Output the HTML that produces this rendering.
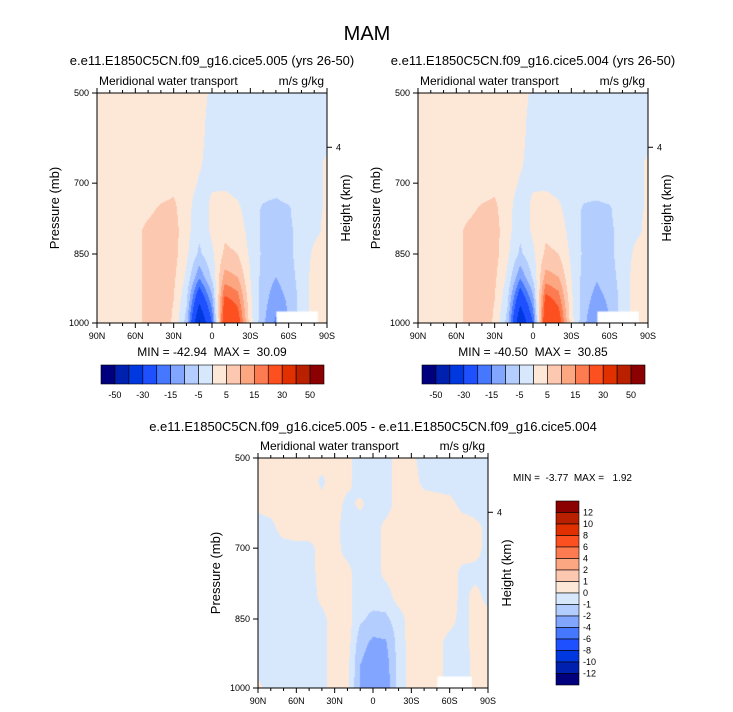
<!DOCTYPE html>
<html><head><meta charset="utf-8">
<style>
body{margin:0;background:#fff;}
#root{position:relative;width:733px;height:712px;overflow:hidden;background:#fff;font-family:"Liberation Sans",sans-serif;}
svg text{font-family:"Liberation Sans",sans-serif;fill:#000;white-space:pre;}
canvas{position:absolute;}
</style></head>
<body>
<div id="root">
<canvas id="cv1" width="230" height="230" style="left:97px;top:93px"></canvas>
<canvas id="cv2" width="230" height="230" style="left:418px;top:93px"></canvas>
<canvas id="cv3" width="230" height="230" style="left:258px;top:458px"></canvas>
<svg id="svg" width="733" height="712" style="position:absolute;left:0;top:0"></svg>
</div>
<script>
// ---- data ----
const latLabels = ["90N","60N","30N","0","30S","60S","90S"];
const presLabels = ["500","700","850","1000"];
const presFrac = [0, 0.392, 0.70, 1];
const heightLabels = ["4"];
const heightFrac = [0.236];
const levelsTop = [-50,-40,-30,-20,-15,-10,-5,0,5,10,15,20,30,40,50];
const levelsTopLabels = ["-50","-30","-15","-5","5","15","30","50"];
const levelsDiff = [-12,-10,-8,-6,-4,-2,-1,0,1,2,4,6,8,10,12];
const levelsDiffLabels = ["12","10","8","6","4","2","1","0","-1","-2","-4","-6","-8","-10","-12"];
const colors = ["#00007f","#0020b0","#0038e0","#1e50ff","#4678ff","#82a5ff","#b4cdff","#d7e8fd","#fde8d8","#fdc8b0","#fca682","#fd7b50","#fd5020","#e03000","#b82000","#8b0000"];
const stats005 = ["-42.94","30.09"];
const stats004 = ["-40.50","30.85"];
const statsDiff = ["-3.77","1.92"];
const grid005 = [
[2,2,2,2,2,2,2,2,2,-1,-2,-2,-2,-2,-2,-2,-2,-2,-2],
[2,2,2,2,2,2,2,2,1.5,-1.5,-2,-2,-2,-2,-2,-2,-2,-2,-2],
[2,2,2,2,2,2,2,2,1,-1.5,-2,-2,-2,-2,-2,-2,-2,-2,-1],
[2,2,2,2,2,2,2.5,2,0.5,-1.5,-2,-2,-2,-2,-2,-2,-2,-1,0.5],
[2,2,2,2,2,3,4,2,-0.5,-0.5,-1,-2,-2,-3,-3,-2,-2,-1,0.5],
[2,2,2,3,4,5.5,6,2,-3,1,3,1,-3,-5.5,-6.5,-5.5,-2,-1,0.5],
[2,2,2,4,6,7,7,2,-4,1,4,3,-2,-6,-7,-6,-3,-1,1],
[2,2,2,4,6,7,7,1,-6,-1,6,5,-1,-6,-8,-6,-3,1,2],
[2,2,2,4,6,7,6,-1,-14,-4,12,10,0,-7,-10,-7,-3,2,2],
[2,2,2,4,6,8,5,-4,-28,-12,22,18,1,-8,-13,-9,-3,2,2],
[2,2,2,4,6,9,4,-7,-42,-20,29,25,2,-9,-16,-10,-3,2,2]];
const grid004 = [
[2,2,2,2,2,2,2,2,2,-1,-2,-2,-2,-2,-2,-2,-2,-2,-2],
[2,2,2,2,2,2,2,2,1.5,-1.5,-2,-2,-2,-2,-2,-2,-2,-2,-2],
[2,2,2,2,2,2,2,2,1,-1.5,-2,-2,-2,-2,-2,-2,-2,-2,-1],
[2,2,2,2,2,2,2.5,2,0.5,-1.5,-2,-2,-2,-2,-2,-2,-2,-1,0.5],
[2,2,2,2,2,3,4,2,-0.5,-0.5,-1,-2,-2,-3,-3,-2,-2,-1,0.5],
[2,2,2,3,4,5.5,6,2,-3,1,3,1,-3,-5.5,-6,-5.5,-2,-1,0.5],
[2,2,2,4,6,7,7,2,-4,1,4,3,-2,-6,-7,-6,-3,-1,1],
[2,2,2,4,6,7,7,1,-6,-1,6,5,-1,-6,-8,-6,-3,1,2],
[2,2,2,4,6,7,6,-1,-14,-4,12,10,0,-7,-9.5,-7,-3,2,2],
[2,2,2,4,6,8,5,-4,-27,-12,23,18,1,-8,-12,-9,-3,2,2],
[2,2,2,4,6,9,4,-7,-40,-20,30,25,2,-9,-15,-10,-3,2,2]];
const gridDiff = [
[.5,.5,.5,.5,.5,.5,.5,.3,-.5,-.5,-.5,.5,.3,-.5,-.5,-.5,-.5,-.5,-.5],
[.5,.5,.5,.5,.5,-.2,.5,.3,-.5,-.5,-.5,.5,.5,-.3,-.5,-.5,-.5,-.5,-.5],
[.3,.5,.5,.5,.5,.3,.5,-.3,.2,-.5,-.5,.5,.5,.5,.5,.3,-.3,-.5,-.5],
[-.5,-.3,.5,.5,.5,.3,.3,-.5,-.5,-.5,.3,.5,.5,.5,.5,.5,.5,.3,-.3],
[-.5,-.5,-.5,-.3,-.3,.3,.3,-.3,-.5,-.5,.3,.5,.5,.5,.5,.5,.5,.3,-.3],
[-.5,-.5,-.5,-.5,-.3,.3,.5,.3,-.5,-.5,.3,.5,.5,.5,.5,.5,-.3,-.3,-.3],
[-.5,-.5,-.5,-.5,-.5,.3,.5,.3,-.5,-.5,-.5,.5,.5,.5,.5,.5,-.3,.3,-.3],
[-.5,-.5,-.5,-.5,-.5,-.3,.5,.5,-.8,-1.3,-1.2,-.5,.5,.5,.5,.3,-.3,.3,.3],
[-.5,-.5,-.5,-.5,-.5,-.3,.5,.5,-1.6,-2.2,-2.1,-.6,.5,.5,.3,-.3,-.3,.3,.5],
[-.5,-.5,-.5,-.5,-.3,-.3,.5,.3,-2.0,-2.6,-2.5,-.6,.5,.3,.3,-.3,-.5,.3,.5],
[.3,-.5,-.5,-.5,-.3,-.3,.5,.3,-2.1,-2.8,-2.7,-.6,.5,.5,.3,-.3,-.5,.3,.5]];
// missing-data box as [x0,x1,y0,y1] fractions
const missing005 = [0.78,0.96,0.95,1];
const missingDiff = [0.78,0.93,0.95,1];

function colorFor(v, lv){let i=0;while(i<lv.length&&v>=lv[i])i++;return colors[i];}
function sample(g,fx,fy){const nr=g.length-1,nc=g[0].length-1;
 const x=fx*nc,y=fy*nr;let c=Math.min(Math.floor(x),nc-1),r=Math.min(Math.floor(y),nr-1);
 const tx=x-c,ty=y-r;
 return g[r][c]*(1-tx)*(1-ty)+g[r][c+1]*tx*(1-ty)+g[r+1][c]*(1-tx)*ty+g[r+1][c+1]*tx*ty;}
function drawField(id,g,lv,miss){const cv=document.getElementById(id),ctx=cv.getContext('2d');
 const W=cv.width,H=cv.height;
 for(let py=0;py<H;py++)for(let px=0;px<W;px++){
  const v=sample(g,(px+0.5)/W,(py+0.5)/H);ctx.fillStyle=colorFor(v,lv);ctx.fillRect(px,py,1,1);}
 ctx.fillStyle='#fff';ctx.fillRect(miss[0]*W,miss[2]*H,(miss[1]-miss[0])*W,(miss[3]-miss[2])*H);}
drawField('cv1',grid005,levelsTop,missing005);
drawField('cv2',grid004,levelsTop,missing005);
drawField('cv3',gridDiff,levelsDiff,missingDiff);

const NS='http://www.w3.org/2000/svg';const svg=document.getElementById('svg');
function el(tag,at,txt){const e=document.createElementNS(NS,tag);for(const k in at)e.setAttribute(k,at[k]);if(txt!==undefined)e.textContent=txt;svg.appendChild(e);return e;}
function text(x,y,s,size,anchor,name,rot){const e=el('text',{x:x,y:y,'font-size':size,'text-anchor':anchor||'middle'},s);
 if(rot)e.setAttribute('transform','rotate(-90 '+x+' '+y+')');
 
 return e;}

text(367,40,'MAM',20,'middle','figure-title');

function panel(x0,y0,title,titleY,pfx){
 const W=230,H=230;
 const xs=f=>x0+f*W, ys=f=>y0+f*H;
 text(x0+W/2,titleY,title,13,'middle',pfx+'-title');
 text(x0+2,y0-8,'Meridional water transport',12,'start',pfx+'-subtitle');
 text(x0+W-3,y0-8,'m/s g/kg',12,'end',pfx+'-units');
 const fr=el('rect',{x:x0,y:y0,width:W,height:H,fill:'none',stroke:'#000','stroke-width':1});
 
 
 for(let i=0;i<=18;i++){const x=xs(i/18),len=(i%3==0)?5:3;
  el('line',{x1:x,x2:x,y1:y0+H,y2:y0+H+len,stroke:'#000'});
  el('line',{x1:x,x2:x,y1:y0,y2:y0-len,stroke:'#000'});}
 latLabels.forEach((s,i)=>text(xs(i/6),y0+H+16,s,9,'middle',pfx+'-x-tick-label'));
 presLabels.forEach((s,i)=>{const y=ys(presFrac[i]);el('line',{x1:x0,x2:x0-5,y1:y,y2:y,stroke:'#000'});
  text(x0-8,y+3,s,9,'end',pfx+'-y-tick-label');});
 heightLabels.forEach((s,i)=>{const y=ys(heightFrac[i]);el('line',{x1:x0+W,x2:x0+W+5,y1:y,y2:y,stroke:'#000'});
  text(x0+W+9,y+3,s,9,'start',pfx+'-height-tick-label');});
 text(x0-38,y0+H/2,'Pressure (mb)',13,'middle',pfx+'-y-axis-title',true);
 text(x0+W+23,y0+H/2,'Height (km)',13,'middle',pfx+'-height-axis-title',true);
}
function hbar(x0,y0,pfx){const n=colors.length,w=223/n;
 colors.forEach((c,i)=>{const r=el('rect',{x:x0+i*w,y:y0,width:w,height:19,fill:c,stroke:'#000','stroke-width':0.6});
  
  });
 levelsTopLabels.forEach((s,i)=>text(x0+(1+2*i)*w,y0+33,s,9,'middle',pfx+'-colorbar-label'));}

panel(97,93,'e.e11.E1850C5CN.f09_g16.cice5.005 (yrs 26-50)',65,'p005');
text(212,356,'MIN = '+stats005[0]+'  MAX =  '+stats005[1],12,'middle','p005-min-max');
hbar(101,365,'p005');
panel(418,93,'e.e11.E1850C5CN.f09_g16.cice5.004 (yrs 26-50)',65,'p004');
text(533,356,'MIN = '+stats004[0]+'  MAX =  '+stats004[1],12,'middle','p004-min-max');
hbar(422,365,'p004');
panel(258,458,'e.e11.E1850C5CN.f09_g16.cice5.005 - e.e11.E1850C5CN.f09_g16.cice5.004',431,'pdiff');
text(513,481,'MIN =  '+statsDiff[0]+'  MAX =   '+statsDiff[1],10,'start','pdiff-min-max');
(function(){const x0=556,y0=501,n=colors.length,h=184/n;
 for(let i=0;i<n;i++){const r=el('rect',{x:x0,y:y0+i*h,width:23,height:h,fill:colors[n-1-i],stroke:'#000','stroke-width':0.6});
  
  }
 levelsDiffLabels.forEach((s,i)=>text(x0+27,y0+(i+1)*h+3,s,9,'start','pdiff-colorbar-label'));})();
</script>
</body></html>
